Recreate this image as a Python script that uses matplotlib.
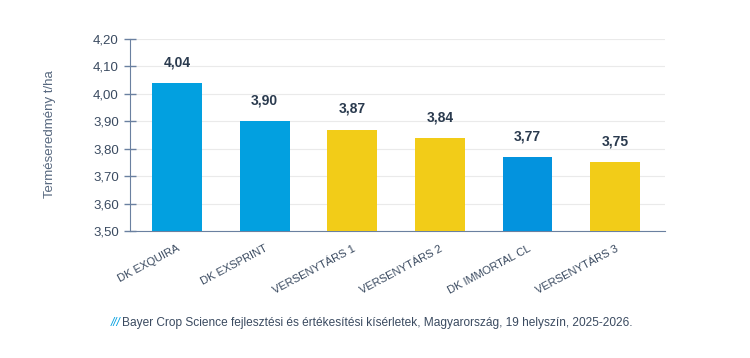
import numpy as np
import matplotlib
matplotlib.use("Agg")
import matplotlib.pyplot as plt

plt.rcParams['font.family'] = ['Liberation Sans', 'DejaVu Sans']

categories = ["DK EXQUIRA", "DK EXSPRINT", "VERSENYTÁRS 1", "VERSENYTÁRS 2",
              "DK IMMORTAL CL", "VERSENYTÁRS 3"]
values = [4.04, 3.90, 3.87, 3.84, 3.77, 3.75]
colors = ["#02A0E0", "#02A0E0", "#F2CC18", "#F2CC18", "#0393DE", "#F2CC18"]
yticks = [3.50, 3.60, 3.70, 3.80, 3.90, 4.00, 4.10, 4.20]

txt = "#3A4A60"
spine = "#6A80A0"

fig = plt.figure(figsize=(7.5, 3.58), dpi=100)
ax = fig.add_axes([0.1733, 0.3547, 0.7134, 0.5363])

x = np.arange(len(categories))
ax.bar(x, values, width=0.57, color=colors, zorder=3)
ax.set_xlim(-0.537, 5.57)
ax.set_ylim(3.5, 4.2)

for xi, v in zip(x, values):
    ax.text(xi, v + 0.05, f"{v:.2f}".replace(".", ","), ha="center", va="bottom",
            fontsize=10, fontweight="bold", color="#2A3A4E")

ax.set_yticks(yticks)
ax.set_yticklabels([f"{t:.2f}".replace(".", ",") for t in yticks], fontsize=9.5, color=txt)
ax.tick_params(axis="y", direction="inout", length=8, width=1, color=spine, pad=4)
ax.set_xticks(x)
ax.set_xticklabels(categories, rotation=28, ha="right", rotation_mode="anchor",
                   fontsize=8, color=txt)
ax.tick_params(axis="x", length=0, pad=9)

ax.grid(axis="y", color="#EAEAEA", linewidth=0.8, zorder=0)
for s in ["top", "right"]:
    ax.spines[s].set_visible(False)
ax.spines["left"].set_color(spine)
ax.spines["bottom"].set_color(spine)

fig.text(0.067, 0.625, "Terméseredmény t/ha", rotation=90, ha="center", va="center",
         fontsize=9.5, color="#56677E")

fig.text(0.147, 0.098, "///", ha="left", va="center", fontsize=8.6, color="#02A0E0",
         style="italic")
fig.text(0.163, 0.098, "Bayer Crop Science fejlesztési és értékesítési kísérletek, "
         "Magyarország, 19 helyszín, 2025-2026.", ha="left", va="center",
         fontsize=8.6, color=txt)

fig.savefig("out.png", dpi=100)
